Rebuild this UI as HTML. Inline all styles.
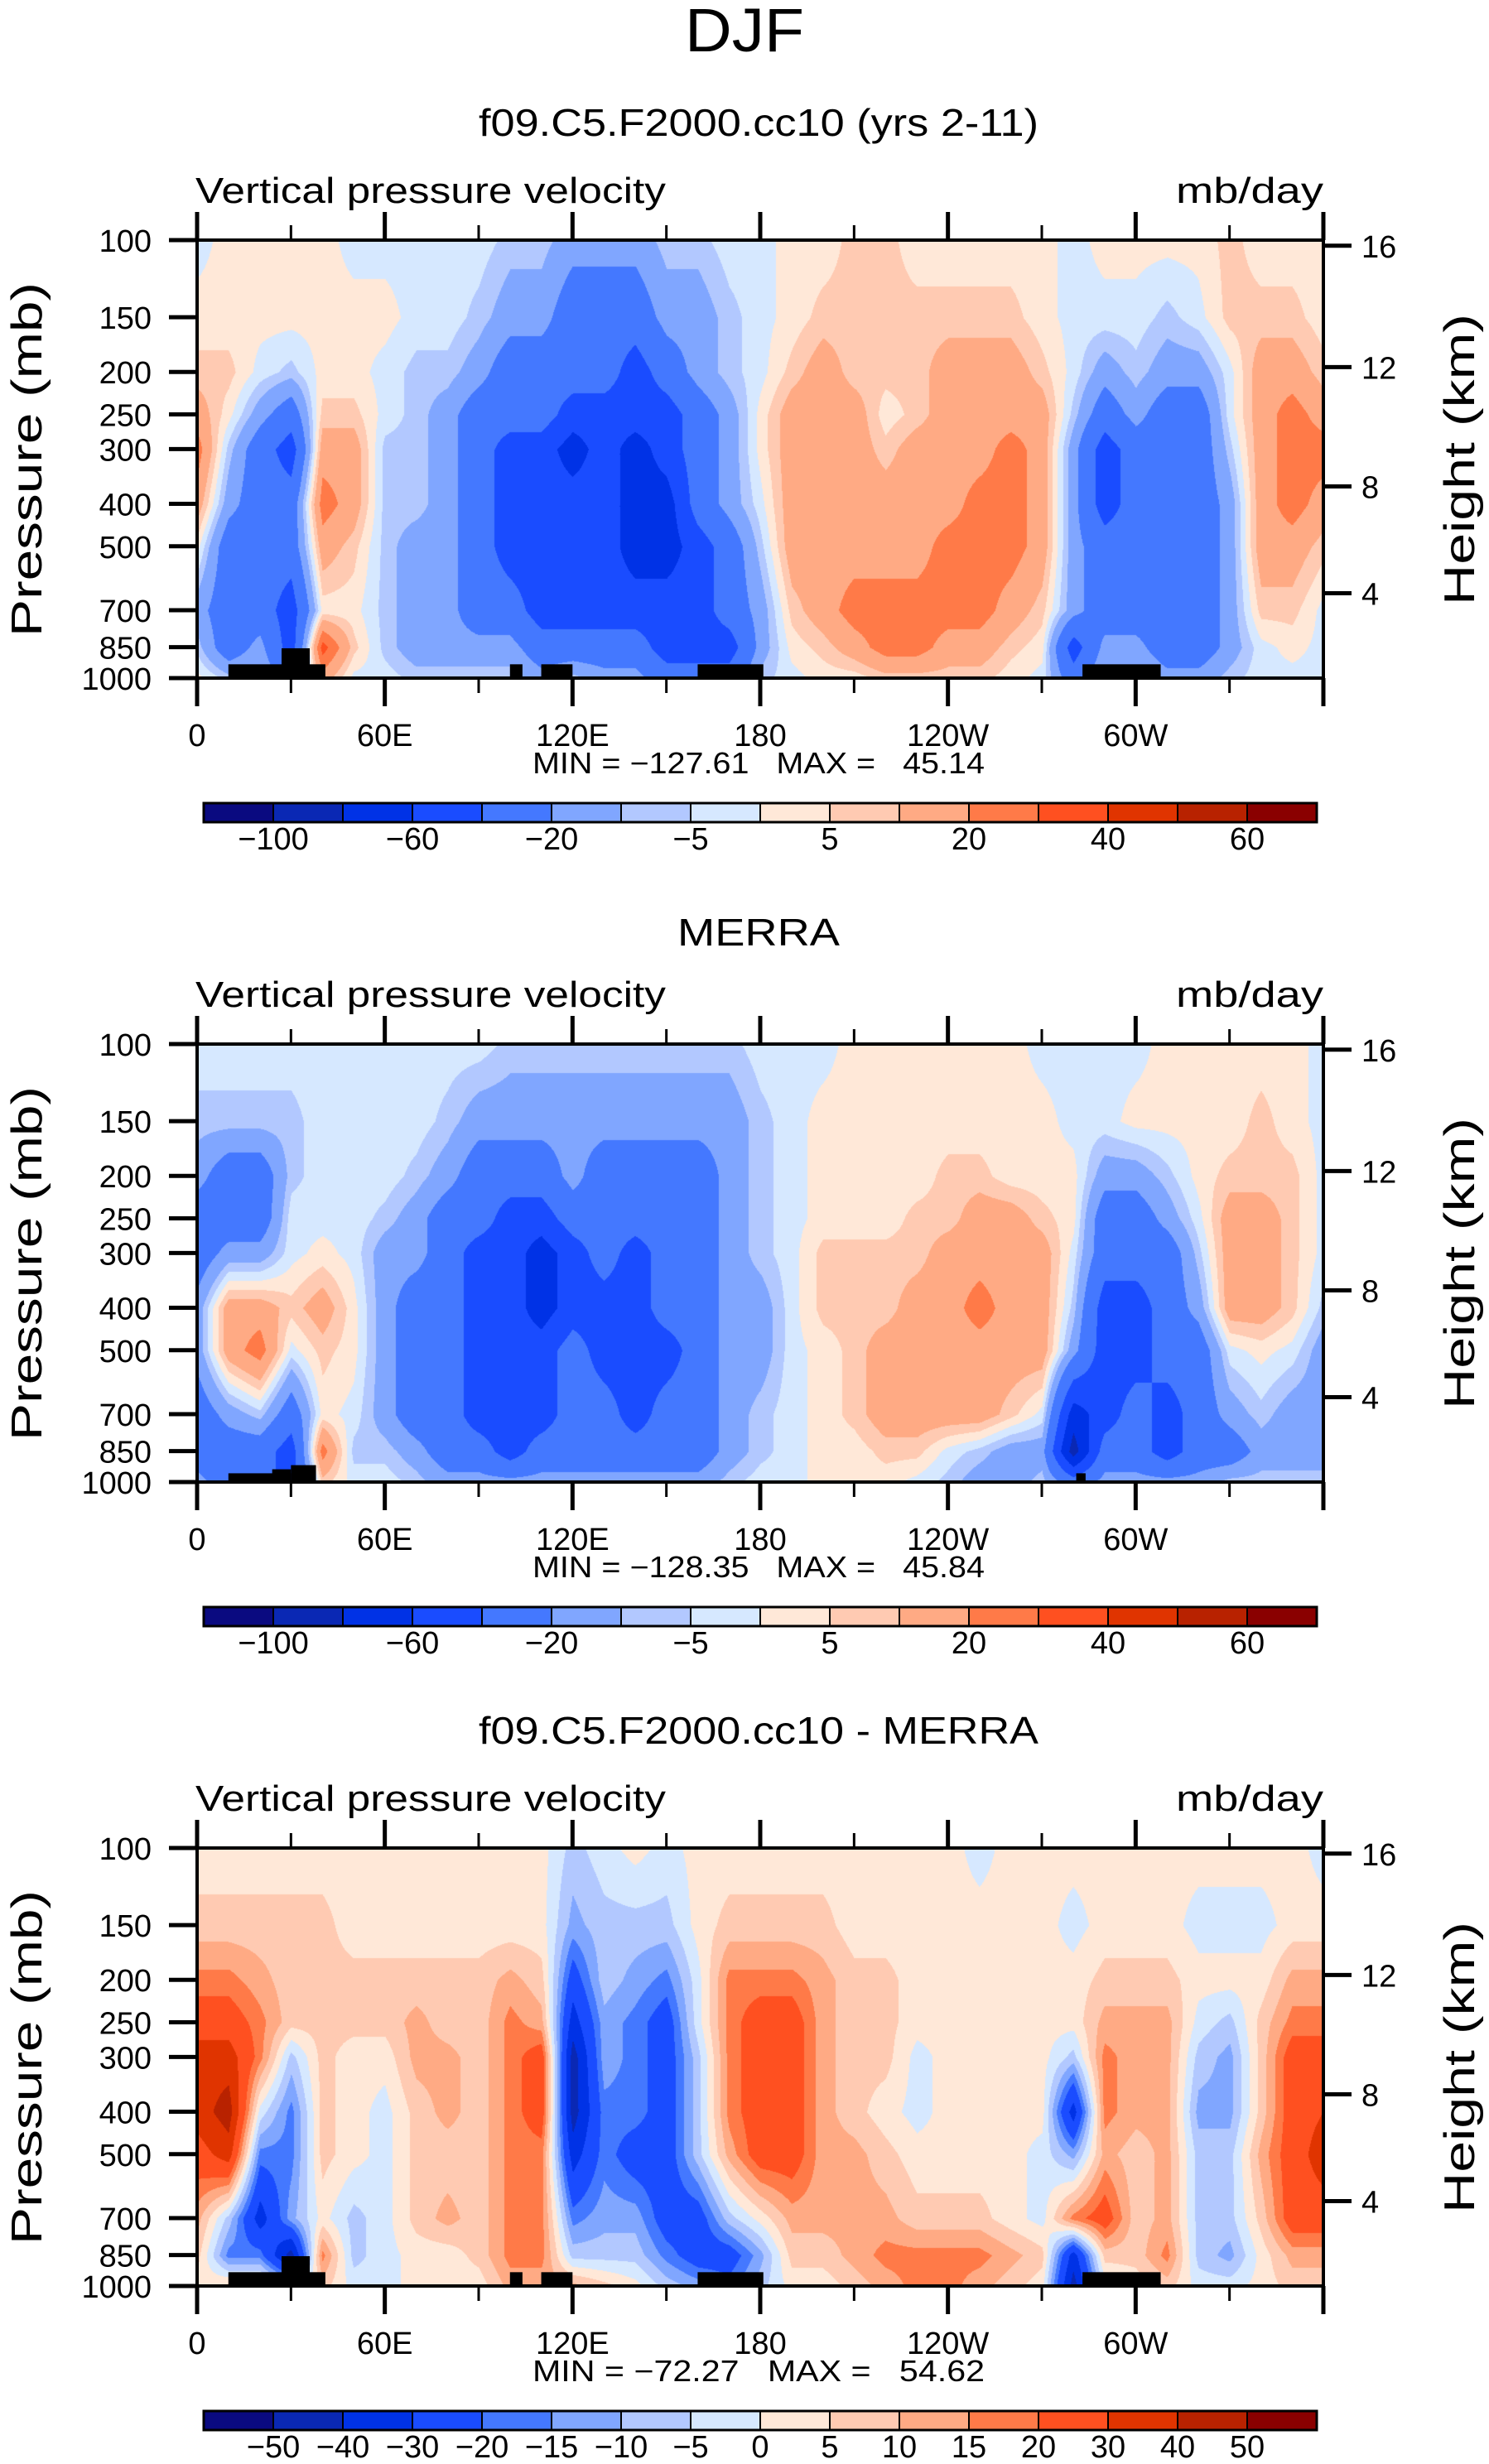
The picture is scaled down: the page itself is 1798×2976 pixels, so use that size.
<!DOCTYPE html>
<html><head><meta charset="utf-8"><style>
html,body{margin:0;padding:0;background:#fff;}
#root{position:relative;width:1798px;height:2976px;overflow:hidden;}
canvas{position:absolute;}
svg{position:absolute;left:0;top:0;}
.pre{white-space:pre;}
</style></head><body>
<div id="root">
<svg id="svg" width="1798" height="2976"></svg>
</div>
<script>
// ---- data ----
const levels = [100,150,200,250,300,400,500,700,850,1000];
const lons = [0,10,20,30,40,50,60,70,80,90,100,110,120,130,140,150,160,170,180,190,200,210,220,230,240,250,260,270,280,290,300,310,320,330,340,350,360];
const bounds12 = [-100,-80,-60,-40,-20,-10,-5,0,5,10,20,30,40,50,60];
const boundsDiff = [-50,-40,-30,-20,-15,-10,-5,0,5,10,15,20,30,40,50];
const cbLabels12 = ["","-100","","-60","","-20","","-5","","5","","20","","40","","60",""];
const cbLabelsDiff = ["","-50","-40","-30","-20","-15","-10","-5","0","5","10","15","20","30","40","50",""];
const xTickLabels = ["0","60E","120E","180","120W","60W"];
const pTickLabels = ["100","150","200","250","300","400","500","700","850","1000"];
const hTickLabels = ["16","12","8","4"];
const hTickPress = [103,195,365,640];
const model = [
[-2,2,7,15,25,15,2,-15,-7,2],[2,2,7,2,-7,-15,-30,-30,-30,-7],[2,2,-2,-15,-30,-30,-30,-30,-15,-7],[2,2,-7,-30,-50,-30,-30,-50,-50,-30],
[2,2,2,7,15,25,15,2,35,15],[-2,2,2,7,15,15,7,2,7,-2],[-2,2,-2,-2,-7,-7,-7,-7,-7,-2],[-2,-2,-7,-7,-7,-7,-15,-15,-15,-7],
[-2,-2,-7,-15,-15,-15,-15,-15,-15,-7],[-2,-7,-15,-30,-30,-30,-30,-30,-15,-7],[-7,-15,-30,-30,-50,-50,-50,-30,-15,-7],[-7,-15,-30,-30,-50,-50,-50,-50,-30,-15],
[-15,-30,-30,-50,-70,-50,-50,-50,-30,-7],[-15,-30,-30,-50,-50,-50,-50,-50,-30,-15],[-15,-30,-50,-50,-70,-70,-70,-50,-30,-15],[-7,-15,-30,-50,-50,-70,-70,-50,-50,-30],
[-7,-15,-15,-30,-30,-30,-50,-50,-50,-30],[-2,-7,-7,-15,-15,-15,-30,-30,-50,-30],[-2,-2,-2,2,2,-2,-7,-15,-15,-7],[2,2,7,15,15,15,15,7,2,-2],
[2,7,15,15,15,15,15,15,7,2],[7,7,7,15,15,15,15,25,15,2],[7,7,7,2,7,15,15,25,25,7],[2,7,7,7,15,15,15,25,25,7],
[2,7,15,15,15,15,25,25,15,7],[2,7,15,15,15,25,25,25,15,7],[2,7,15,15,25,25,25,15,7,2],[2,2,7,15,15,15,15,7,2,-2],
[-2,-2,-2,-7,-15,-15,-15,-15,-50,-30],[2,-2,-15,-30,-50,-50,-30,-30,-15,-7],[2,-2,-7,-15,-30,-30,-30,-30,-15,-7],[2,-7,-15,-30,-30,-30,-30,-30,-30,-15],
[2,-2,-15,-30,-30,-30,-30,-30,-30,-15],[7,7,-2,-2,-7,-15,-15,-15,-15,-7],[2,7,15,15,15,15,15,7,-2,-2],[2,7,15,25,25,25,15,7,2,-2],
[2,2,7,15,25,15,7,-2,-2,-2]];
const merra = [
[-2,-7,-15,-30,-30,-15,-15,-30,-30,-15],[-2,-7,-30,-30,-15,15,15,-15,-30,-30],[-2,-7,-30,-30,-15,15,25,-7,-30,-30],[-2,-7,-7,-2,-2,7,-2,-30,-50,-50],
[-2,-2,-2,-2,2,15,7,2,25,7],[-2,-2,-2,-2,-2,2,2,-2,-7,-2],[-2,-2,-2,-7,-15,-15,-15,-15,-7,-2],[-2,-2,-7,-15,-15,-30,-30,-30,-15,-7],
[-2,-7,-15,-30,-30,-30,-30,-30,-30,-15],[-2,-15,-30,-30,-50,-50,-50,-50,-30,-15],[-7,-15,-30,-50,-50,-50,-50,-50,-50,-15],[-7,-15,-30,-50,-70,-70,-50,-50,-30,-15],
[-7,-15,-15,-30,-50,-50,-30,-30,-30,-15],[-7,-15,-30,-30,-30,-50,-50,-30,-30,-15],[-7,-15,-30,-30,-50,-50,-50,-50,-30,-15],[-7,-15,-30,-30,-30,-30,-50,-30,-30,-15],
[-7,-15,-30,-30,-30,-30,-30,-30,-30,-15],[-7,-15,-15,-15,-15,-15,-15,-15,-15,-7],[-2,-7,-7,-7,-7,-15,-15,-7,-7,-2],[-2,-2,-2,-2,-2,-2,-2,-2,-2,-2],
[-2,2,2,2,7,7,2,2,2,2],[2,2,2,2,7,7,7,7,2,2],[2,2,2,2,7,7,15,15,7,2],[2,2,2,7,7,15,15,15,7,-2],
[2,2,7,7,15,15,15,15,-2,-7],[2,2,7,15,15,25,15,15,-7,-15],[2,2,2,15,15,15,15,7,-15,-15],[-2,2,2,7,15,15,15,-2,-15,-7],
[-2,-2,2,2,-2,-7,-15,-70,-90,-30],[-2,-2,-15,-30,-30,-50,-50,-50,-30,-15],[-2,2,-15,-30,-30,-50,-50,-30,-30,-15],[2,2,-7,-15,-30,-30,-30,-50,-50,-15],
[2,2,2,-2,-7,-15,-30,-30,-30,-15],[2,2,7,15,15,15,-2,-15,-30,-7],[2,7,7,15,15,15,2,-7,-15,-7],[2,2,7,7,7,7,-2,-15,-15,-7],
[-2,-2,-2,-2,-2,-7,-15,-15,-15,-7]];
const diff = [
[2,7,17,25,35,35,25,12,7,2],[2,7,17,25,35,45,35,-7,-17,7],[2,7,12,17,17,-2,-17,-35,-17,7],[2,7,7,7,-7,-17,-17,-12,-45,-7],
[2,7,7,7,7,7,7,2,17,7],[2,2,7,7,2,2,2,-7,-7,-2],[2,2,7,7,2,-2,-2,-2,-2,-2],[2,2,7,12,12,7,7,7,2,2],
[2,2,7,7,12,12,7,12,2,2],[2,2,7,7,7,7,7,7,7,2],[2,2,12,17,17,17,17,17,17,12],[2,2,7,12,25,25,17,17,17,12],
[-7,-12,-25,-35,-45,-45,-35,-17,-7,12],[-2,-7,-7,-12,-12,-17,-17,-12,-7,7],[2,-7,-12,-17,-17,-17,-25,-12,-7,2],[-2,-7,-17,-25,-25,-25,-25,-25,-17,-7],
[2,2,-2,-2,-7,-7,-7,-25,-25,-12],[2,7,17,17,17,17,12,-7,-25,-17],[2,7,17,25,25,25,25,2,-12,-7],[2,7,17,25,25,25,25,12,7,2],
[2,7,12,12,12,12,12,12,7,2],[2,2,7,7,7,7,12,12,12,7],[2,2,7,7,7,2,7,12,17,12],[2,2,2,2,-2,-2,2,7,17,17],
[2,2,2,2,2,2,2,7,17,17],[-2,2,2,2,2,2,2,7,17,12],[2,2,2,2,2,2,2,2,12,7],[2,2,2,2,2,2,-2,-2,7,2],
[2,-2,2,2,-7,-35,-12,17,-35,-45],[2,2,7,12,17,17,12,25,7,-2],[2,2,7,12,12,12,7,7,7,2],[2,2,7,12,12,12,12,12,17,7],
[2,-2,2,-2,-7,-12,-7,-7,-7,-2],[2,-2,2,-7,-12,-12,-7,-7,-12,-2],[2,-2,2,7,7,7,12,7,2,2],[2,2,12,17,25,25,25,25,12,7],
[-2,2,12,17,25,30,35,25,12,7]];
const topoModel = [[10,41,930],[27,36,855],[100,104,930],[110,120,930],[160,181,930],[283,308,930]];
const topoMerra = [[10,30,955],[24,30,935],[30,38,915],[281,284,955]];
const titles = ["f09.C5.F2000.cc10 (yrs 2-11)","MERRA","f09.C5.F2000.cc10 - MERRA"];
const minmax = ["MIN = \u2212127.61   MAX =   45.14","MIN = \u2212128.35   MAX =   45.84","MIN = \u221272.27   MAX =   54.62"];

// ---- layout ----
const colors = ["#0a0a80","#0a28b4","#0032e6","#1a4cff","#4478ff","#80a6ff","#b2c8ff","#d6e8ff","#ffe8d8","#ffcab2","#ffaa84","#ff7a48","#ff5020","#e03400","#b82200","#8a0000"];
const PL=238, PR=1598, PH=529, TOP0=290, DY=971;
const NS="http://www.w3.org/2000/svg";
const svg=document.getElementById('svg');
const root=document.getElementById('root');
function xS(lon){return PL+(lon/360)*(PR-PL);}
function yS(p,top){return top+Math.log10(p/100)*PH;}
function el(tag,attrs,parent){const e=document.createElementNS(NS,tag);for(const k in attrs)e.setAttribute(k,attrs[k]);(parent||svg).appendChild(e);return e;}
function txt(s,x,y,size,anchor,extra){const t=el('text',Object.assign({x:x,y:y,'font-size':size,'text-anchor':anchor||'middle','font-family':'Liberation Sans, DejaVu Sans, sans-serif',fill:'#000'},extra||{}));t.textContent=s;return t;}

const djf=txt("DJF",899,62,74,'middle',{textLength:'144','lengthAdjust':'spacingAndGlyphs'});



function classify(v,b){let i=0;while(i<b.length&&v>=b[i])i++;return i;}
function hex(c){return [parseInt(c.substr(1,2),16),parseInt(c.substr(3,2),16),parseInt(c.substr(5,2),16)];}
const rgb=colors.map(hex);

function drawPanel(k,grid,bounds,topo,cbl){
  const top=TOP0+k*DY, bot=top+PH;
  const g=el('g',{});
  
  
  const W=PR-PL, H=PH;
  const cv=document.createElement('canvas');cv.width=W;cv.height=H;
  cv.style.left=PL+'px';cv.style.top=top+'px';
  
  
  root.insertBefore(cv,svg);
  const ctx=cv.getContext('2d');const img=ctx.createImageData(W,H);
  const ly=levels.map(p=>yS(p,top)-top);
  const rowIdx=[],rowT=[];
  for(let y=0;y<H;y++){let j=0;while(j<ly.length-2&&y>ly[j+1])j++;let t=(y-ly[j])/(ly[j+1]-ly[j]);t=Math.max(0,Math.min(1,t));rowIdx.push(j);rowT.push(t);}
  for(let x=0;x<W;x++){
    const lon=x/W*360;let i=Math.min(lons.length-2,Math.floor(lon/10));const u=(lon-lons[i])/10;
    for(let y=0;y<H;y++){
      const j=rowIdx[y],t=rowT[y];
      const v=(1-u)*((1-t)*grid[i][j]+t*grid[i][j+1])+u*((1-t)*grid[i+1][j]+t*grid[i+1][j+1]);
      const c=rgb[classify(v,bounds)];const o=(y*W+x)*4;
      img.data[o]=c[0];img.data[o+1]=c[1];img.data[o+2]=c[2];img.data[o+3]=255;
    }
  }
  ctx.putImageData(img,0,0);
  topo.forEach(b=>{const r=el('rect',{x:xS(b[0]),y:yS(b[2],top),width:xS(b[1])-xS(b[0]),height:bot-yS(b[2],top),fill:'#000'},g);
    
    });
  const fr=el('rect',{x:PL,y:top,width:PR-PL,height:PH,fill:'none',stroke:'#000','stroke-width':4},g);
  
  
  for(let lon=0;lon<=360;lon+=30){const major=lon%60===0;const L=major?34:18;const x=xS(lon);
    el('line',{x1:x,y1:bot,x2:x,y2:bot+L,stroke:'#000','stroke-width':major?5:3},g);
    el('line',{x1:x,y1:top,x2:x,y2:top-L,stroke:'#000','stroke-width':major?5:3},g);
    if(major&&lon<360){const t=txt(xTickLabels[lon/60],x,bot+82,38,'middle');g.appendChild(t);
      
      }}
  levels.forEach((p,i)=>{const y=yS(p,top);el('line',{x1:PL-34,y1:y,x2:PL,y2:y,stroke:'#000','stroke-width':5},g);
    const t=txt(pTickLabels[i],183,y+14,38,'end');g.appendChild(t);
    
    });
  hTickPress.forEach((p,i)=>{const y=yS(p,top);el('line',{x1:PR,y1:y,x2:PR+34,y2:y,stroke:'#000','stroke-width':5},g);
    const t=txt(hTickLabels[i],1644,y+14,38,'start');g.appendChild(t);
    
    });
  const ti=txt(titles[k],916,top-126+(k==1?7:0),46,'middle',{textLength:k==1?'196':'676',lengthAdjust:'spacingAndGlyphs'});g.appendChild(ti);
  
  
  const vl=txt("Vertical pressure velocity",236,top-45,44,'start',{textLength:'568',lengthAdjust:'spacingAndGlyphs'});g.appendChild(vl);
  
  
  const un=txt("mb/day",1598,top-45,44,'end',{textLength:'178',lengthAdjust:'spacingAndGlyphs'});g.appendChild(un);
  
  
  const pa=txt("Pressure (mb)",0,0,52,'middle',{transform:'translate(50,'+(top+265)+') rotate(-90)',textLength:'428',lengthAdjust:'spacingAndGlyphs'});g.appendChild(pa);
  
  
  const ha=txt("Height (km)",0,0,52,'middle',{transform:'translate(1780,'+(top+265)+') rotate(-90)',textLength:'352',lengthAdjust:'spacingAndGlyphs'});g.appendChild(ha);
  
  
  const mm=txt(minmax[k],916,top+644,36,'middle',{textLength:'546',lengthAdjust:'spacingAndGlyphs','class':'pre'});g.appendChild(mm);
  mm.setAttributeNS('http://www.w3.org/XML/1998/namespace','xml:space','preserve');
  
  
  const cb=el('g',{},g);
  
  
  const cx0=246,cw=84,cy=top+680;
  colors.forEach((c,i)=>{const r=el('rect',{x:cx0+i*cw,y:cy,width:cw,height:23,fill:c,stroke:'#000','stroke-width':2},cb);
    
    });
  el('rect',{x:cx0,y:cy,width:cw*16,height:23,fill:'none',stroke:'#000','stroke-width':3},cb);
  cbl.forEach((s,i)=>{if(!s)return;const t=txt(s.replace('-','\u2212'),cx0+i*cw,cy+56,38,'middle');cb.appendChild(t);
    
    });
}
drawPanel(0,model,bounds12,topoModel,cbLabels12);
drawPanel(1,merra,bounds12,topoMerra,cbLabels12);
drawPanel(2,diff,boundsDiff,topoModel,cbLabelsDiff);
</script>
</body></html>
